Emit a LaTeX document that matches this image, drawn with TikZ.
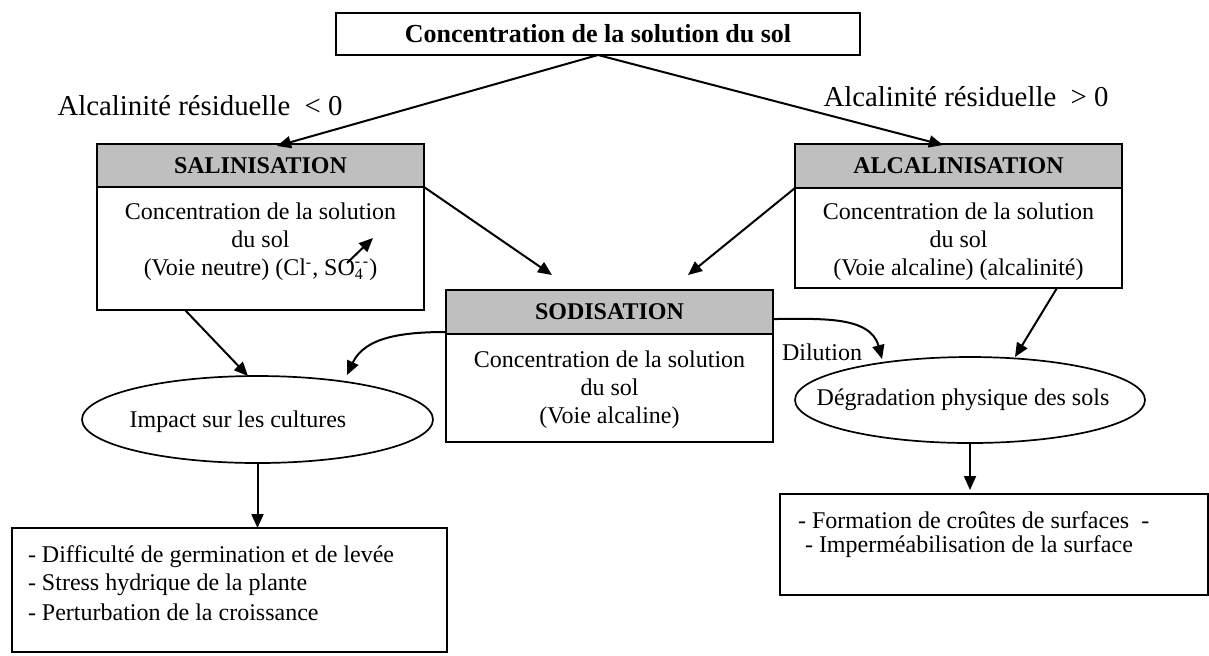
\documentclass[tikz,border=0pt]{standalone}
\usepackage{fontspec}
\setmainfont{Liberation Serif}
\usetikzlibrary{arrows.meta,shapes.geometric}
\begin{document}
\begin{tikzpicture}[x=0.5pt,y=-0.5pt,
  every node/.style={inner sep=0pt, outer sep=0pt},
  body/.style={font=\fontsize{12}{14}\selectfont, align=center},
  lbl/.style={font=\fontsize{14.4}{17}\selectfont},
  frame/.style={draw, line width=0.85pt, fill=white},
  headbox/.style={draw, line width=0.85pt, fill=gray!50, font=\fontsize{12}{14}\selectfont\bfseries},
  oval/.style={draw, ellipse, line width=0.85pt},
  conn/.style={line width=1pt, -{Triangle[length=7pt,width=6pt]}},
]
\useasboundingbox (0,0) rectangle (1209,655);

% top
\node[frame, minimum width=262pt, minimum height=21pt, font=\fontsize{13}{15}\selectfont\bfseries] (top) at (598,34) {Concentration de la solution du sol};
\node[lbl] (lneg) at (200,106) {Alcalinité résiduelle \ < 0};
\node[lbl] (lpos) at (966,97) {Alcalinité résiduelle \ > 0};

% salinisation
\node[frame, minimum width=163.5pt, minimum height=83pt] (sal) at (260.5,227) {};
\node[headbox, minimum width=163.5pt, minimum height=21.5pt] (salh) at (260.5,165.5) {SALINISATION};
\node[body] (salt) at (260.5,242) {Concentration de la solution\\du sol\\(Voie neutre) (Cl\textsuperscript{-}, SO\rlap{\textsubscript{4}}\raisebox{0.5pt}{\textsuperscript{-\,-}})};

% alcalinisation
\node[frame, minimum width=163.5pt, minimum height=72pt] (alc) at (958.5,216) {};
\node[headbox, minimum width=163.5pt, minimum height=22pt] (alch) at (958.5,166) {ALCALINISATION};
\node[body] (alct) at (958.5,242) {Concentration de la solution\\du sol\\(Voie alcaline) (alcalinité)};

% sodisation
\node[frame, minimum width=163.5pt, minimum height=76pt] (sod) at (609.5,366) {};
\node[headbox, minimum width=163.5pt, minimum height=22pt] (sodh) at (609.5,312) {SODISATION};
\node[body] (sodt) at (609.5,390) {Concentration de la solution\\du sol\\(Voie alcaline)};

% ellipses
\node[oval, minimum width=175.5pt, minimum height=43.5pt] (imp) at (257.5,419.5) {};
\node[body] (impt) at (238,422) {Impact sur les cultures};
\node[oval, minimum width=175pt, minimum height=43pt] (deg) at (970,400) {};
\node[body] (degt) at (963,400) {Dégradation physique des sols};

% result boxes
\node[frame, minimum width=217.5pt, minimum height=62pt] (resl) at (229.5,590) {};
\node[body, anchor=west] (l1) at (28,557) {- Difficulté de germination et de levée};
\node[body, anchor=west] (l2) at (28,585) {- Stress hydrique de la plante};
\node[body, anchor=west] (l3) at (28,612) {- Perturbation de la croissance};
\node[frame, minimum width=214pt, minimum height=50.5pt] (resr) at (994,544.5) {};
\node[body, anchor=west] (r1) at (798,520) {- Formation de croûtes de surfaces \ -};
\node[body, anchor=west] (r2) at (805,547) {- Imperméabilisation de la surface};

\node[body] (dil) at (822,352) {Dilution};

% coordinates
\coordinate (ln) at (277,146);
\coordinate (rn) at (943,145);
\coordinate (s1) at (552,275);
\coordinate (s2) at (688,275);
\coordinate (a1) at (185,310);
\coordinate (i1) at (248,376);
\coordinate (s3) at (446,332);
\coordinate (i2) at (347,375);
\coordinate (a2) at (1057,288);
\coordinate (d1) at (1015,357);
\coordinate (s4) at (773,319);
\coordinate (d2) at (882,359);
\coordinate (sa1) at (347,263);
\coordinate (sa2) at (373,238);
\coordinate (rr) at (970,490);

% connectors
\draw[conn] (top.south) -- (ln);
\draw[conn] (top.south) -- (rn);
\draw[conn] (salh.south east) -- (s1);
\draw[conn] (alch.south west) -- (s2);
\draw[conn] (a1) -- (i1);
\draw[conn] (s3) to[out=180,in=65] (i2);
\draw[conn] (imp.south) -- (imp.south |- resl.north);
\draw[conn] (a2) -- (d1);
\draw[conn] (s4) to[out=0,in=105] (d2);
\draw[conn] (deg.south) -- (rr);
\draw[conn] (sa1) -- (sa2);
\end{tikzpicture}
\end{document}
